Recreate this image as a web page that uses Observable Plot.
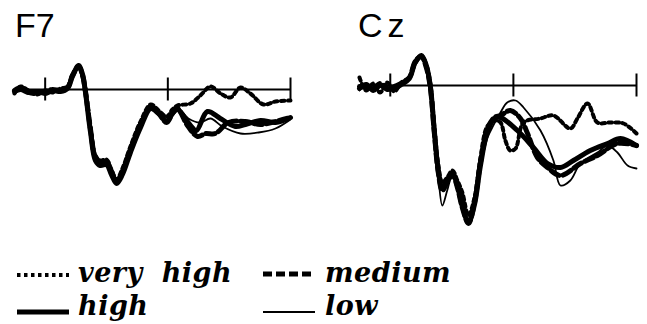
<!DOCTYPE html>
<html>
<head>
<meta charset="utf-8">
<script src="https://cdn.jsdelivr.net/npm/d3@7"></script>
<script src="https://cdn.jsdelivr.net/npm/@observablehq/plot@0.6"></script>
<style>
  html, body { margin: 0; padding: 0; background: #fff; }
  #wrap { position: relative; width: 647px; height: 324px; overflow: hidden; background: #fff; }
  #f7, #cz { position: absolute; }
  #f7 { left: 0; top: 45px; }
  #cz { left: 340px; top: 45px; }
  #overlay { position: absolute; left: 0; top: 0; }
  .ttl { font-family: "Liberation Sans", Arial, sans-serif; font-size: 34px; fill: #000; }
  .leg { font-family: "DejaVu Serif", serif; font-weight: bold; font-style: italic; font-size: 27px; fill: #000; word-spacing: 9px; letter-spacing: 0.5px; }
</style>
</head>
<body>
<div id="wrap">
  <div id="f7"></div>
  <div id="cz"></div>
</div>
<script>
// ---- Data (time in ms, amplitude in µV) ----
const xTicks = [0, 400, 800];
const conditions = ["very high", "medium", "high", "low"];
const panelTitles = ["F7", "Cz"];

// F7
const f7VeryHighT = [-100,-80,-54,-28,0,24,50,73,89,109,122,131,148,164,180,200,216,233,252,278,311,344,370,396,415,431,474,506,539,572,604,637,669,712,751,800];
const f7VeryHighV = [-0.8,0.6,-0.2,-1.0,-0.2,-0.6,0.2,0.6,3.0,4.6,2.6,0.0,-7.6,-13.2,-14.2,-14.0,-16.0,-18.0,-15.8,-11.4,-6.4,-3.0,-4.2,-5.4,-4.0,-3.2,-2.8,-1.2,0.6,-0.8,-1.6,0.4,-0.8,-3.0,-2.4,-2.2];
const f7HighT = [-100,-80,-54,-28,0,24,50,73,89,109,122,131,148,164,180,200,216,233,252,278,311,344,370,396,415,431,474,493,529,571,620,653,702,751,800];
const f7HighV = [-0.4,0.0,-0.6,-0.4,-0.8,-0.2,-0.4,0.2,2.6,4.8,3.0,-0.4,-8.6,-14.2,-15.2,-15.0,-17.0,-18.8,-17.0,-12.6,-7.6,-3.8,-4.8,-6.4,-4.8,-4.0,-7.2,-8.2,-4.4,-5.8,-7.4,-7.0,-6.2,-6.6,-5.6];
const f7MediumT = [-100,-80,-54,-28,0,24,50,73,89,109,122,131,148,164,180,200,216,233,252,278,311,344,370,396,415,431,464,497,523,555,598,653,702,751,800];
const f7MediumV = [-0.2,0.4,-0.6,-0.8,-0.4,0.0,-0.2,0.4,2.8,4.6,2.8,-0.2,-8.0,-13.6,-14.6,-14.4,-16.4,-18.4,-16.4,-12.0,-7.0,-3.6,-4.8,-6.6,-4.8,-3.8,-7.2,-9.4,-8.8,-8.8,-6.6,-6.4,-7.0,-6.4,-5.6];
const f7LowT = [-100,-80,-54,-28,0,24,50,73,89,109,122,131,148,164,180,200,216,233,252,278,311,344,370,396,415,431,467,506,539,578,637,696,751,800];
const f7LowV = [-0.4,0.2,-0.2,-0.4,-1.0,-0.4,0.0,0.4,3.0,5.0,2.8,-0.4,-8.4,-14.0,-15.0,-14.6,-16.8,-18.6,-16.6,-12.4,-7.2,-3.6,-4.4,-6.0,-4.4,-3.6,-5.8,-6.6,-5.8,-7.4,-8.8,-8.6,-7.8,-6.0];

// Cz
const czVeryHighT = [-100,-78,-55,-33,-10,13,36,62,81,101,117,130,143,156,169,185,202,218,234,254,273,293,315,338,358,374,390,407,433,488,530,585,608,641,673,715,758,800];
const czVeryHighV = [1.6,-1.0,0.4,-1.4,0.6,-1.2,0.6,1.6,4.4,5.8,4.2,0.4,-8.0,-15.8,-19.4,-18.4,-17.0,-19.0,-21.4,-26.0,-22.6,-14.4,-8.2,-7.0,-7.4,-11.0,-13.0,-12.6,-7.4,-6.6,-6.0,-8.6,-6.6,-3.6,-7.4,-7.4,-7.6,-9.6];
const czHighT = [-100,-78,-55,-33,-10,13,36,62,81,101,117,130,143,156,169,185,202,218,234,254,273,293,315,338,358,413,465,511,553,595,650,706,748,800];
const czHighV = [-0.6,0.2,-1.0,0.0,-0.6,-0.6,0.2,1.4,4.6,6.0,4.0,0.0,-9.0,-17.0,-20.6,-19.0,-17.6,-20.0,-24.0,-27.4,-24.0,-16.0,-9.4,-6.6,-6.4,-9.0,-12.4,-15.6,-16.4,-15.0,-13.0,-11.6,-10.6,-12.0];
const czMediumT = [-100,-78,-55,-33,-10,13,36,62,81,101,117,130,143,156,169,185,202,218,234,254,273,293,315,338,358,390,423,446,478,511,553,618,673,738,800];
const czMediumV = [-0.2,-0.4,-0.6,0.4,-0.8,-0.2,0.4,1.6,4.8,5.8,3.6,-0.4,-9.4,-17.4,-21.0,-19.4,-17.8,-20.4,-24.4,-27.6,-23.6,-15.4,-8.8,-6.4,-6.0,-5.0,-6.6,-9.6,-14.4,-16.4,-18.0,-15.6,-14.0,-11.6,-12.0];
const czLowT = [-100,-78,-55,-33,-10,13,36,62,81,101,117,130,143,156,169,185,202,218,234,254,273,293,315,338,358,380,407,433,488,530,553,585,618,673,706,738,771,800];
const czLowV = [-1.0,0.4,-0.8,0.2,-0.4,-1.0,0.0,1.2,4.4,6.0,4.2,0.2,-9.2,-18.0,-24.0,-21.0,-17.8,-20.6,-24.4,-27.2,-24.4,-16.8,-10.6,-7.6,-5.4,-3.4,-3.0,-4.4,-9.0,-15.0,-20.0,-19.0,-15.6,-13.4,-12.0,-13.4,-16.0,-16.6];

// ---- styles per condition ----
const styles = {
  "very high": {strokeWidth: 4,   strokeDasharray: "3.5,3.5"},
  "medium":    {strokeWidth: 5,   strokeDasharray: "9,4"},
  "high":      {strokeWidth: 5,   strokeDasharray: null},
  "low":       {strokeWidth: 1.8, strokeDasharray: null}
};

function rows(T, V) { return T.map((t, i) => ({t, v: V[i]})); }

function panel(series, opts) {
  const marks = [
    Plot.ruleY([0], {stroke: "#000", strokeWidth: 2}),
    Plot.ruleX(xTicks, {y1: -2.3, y2: 2.3, stroke: "#000", strokeWidth: 2})
  ];
  for (const c of conditions) {
    const s = styles[c];
    const o = {x: "t", y: "v", stroke: "#000", strokeWidth: s.strokeWidth, curve: "catmull-rom", strokeLinejoin: "round"};
    if (s.strokeDasharray) o.strokeDasharray = s.strokeDasharray;
    marks.push(Plot.line(series[c], o));
  }
  return Plot.plot({
    width: opts.width, height: opts.height,
    marginLeft: opts.ml, marginRight: opts.mr, marginTop: 0, marginBottom: 0,
    x: {domain: [-100, 800], axis: null},
    y: {domain: opts.ydom, axis: null},
    style: {background: "transparent", overflow: "visible"},
    marks
  });
}

document.getElementById("f7").append(panel({
  "very high": rows(f7VeryHighT, f7VeryHighV),
  "medium": rows(f7MediumT, f7MediumV),
  "high": rows(f7HighT, f7HighV),
  "low": rows(f7LowT, f7LowV)
}, {width: 320, height: 150, ml: 14, mr: 30, ydom: [-21.2, 8.8]}));

document.getElementById("cz").append(panel({
  "very high": rows(czVeryHighT, czVeryHighV),
  "medium": rows(czMediumT, czMediumV),
  "high": rows(czHighT, czHighV),
  "low": rows(czLowT, czLowV)
}, {width: 307, height: 190, ml: 19, mr: 11, ydom: [-30, 8]}));

// ---- titles and legend overlay ----
const ns = "http://www.w3.org/2000/svg";
const ov = document.createElementNS(ns, "svg");
ov.setAttribute("id", "overlay");
ov.setAttribute("width", 647);
ov.setAttribute("height", 324);
function addText(str, x, y, cls, extra) {
  const t = document.createElementNS(ns, "text");
  t.setAttribute("x", x); t.setAttribute("y", y); t.setAttribute("class", cls);
  if (extra) for (const k in extra) t.setAttribute(k, extra[k]);
  t.textContent = str;
  ov.appendChild(t);
}
function addLine(x1, x2, y, cond) {
  const l = document.createElementNS(ns, "line");
  const s = styles[cond];
  l.setAttribute("x1", x1); l.setAttribute("x2", x2);
  l.setAttribute("y1", y); l.setAttribute("y2", y);
  l.setAttribute("stroke", "#000");
  l.setAttribute("stroke-width", s.strokeWidth);
  if (s.strokeDasharray) l.setAttribute("stroke-dasharray", s.strokeDasharray);
  ov.appendChild(l);
}
addText(panelTitles[0], 15, 37, "ttl");
addText(panelTitles[1], 358, 37, "ttl", {"letter-spacing": "5"});

const legendPos = [
  {c: "very high", lx: 17, ly: 275, tx: 78, ty: 282},
  {c: "medium",    lx: 263, ly: 274, tx: 325, ty: 282},
  {c: "high",      lx: 17, ly: 312, tx: 78, ty: 315},
  {c: "low",       lx: 263, ly: 312, tx: 325, ty: 315}
];
for (const p of legendPos) {
  addLine(p.lx, p.lx + 52, p.ly, p.c);
  addText(p.c, p.tx, p.ty, "leg");
}
document.getElementById("wrap").appendChild(ov);
</script>
</body>
</html>
